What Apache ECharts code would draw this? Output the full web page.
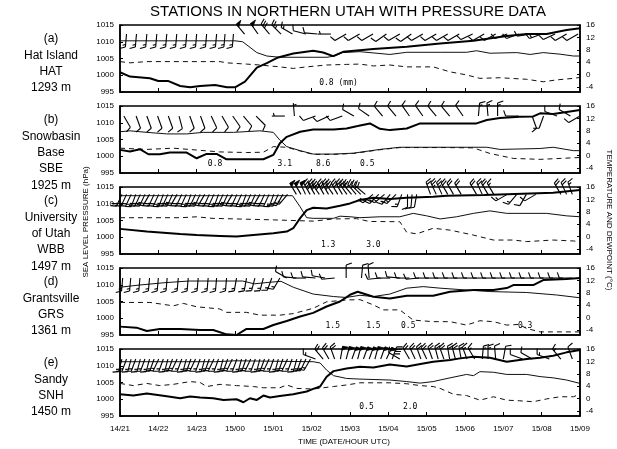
<!DOCTYPE html>
<html><head><meta charset="utf-8">
<script src="https://cdn.jsdelivr.net/npm/echarts@6/dist/echarts.min.js"></script>
<style>html,body{margin:0;padding:0;background:#fff}#c{width:617px;height:449px}</style>
</head><body><div id="c"></div>
<script>
// ---------- data ----------
const timeLabels = ['14/21','14/22','14/23','15/00','15/01','15/02','15/03','15/04','15/05','15/06','15/07','15/08','15/09'];
const rightTicks = [-4, 0, 4, 8, 12, 16];

const stationNames = [
  ['(a)', 'Hat Island', 'HAT', '1293 m'],
  ['(b)', 'Snowbasin', 'Base', 'SBE', '1925 m'],
  ['(c)', 'University', 'of Utah', 'WBB', '1497 m'],
  ['(d)', 'Grantsville', 'GRS', '1361 m'],
  ['(e)', 'Sandy', 'SNH', '1450 m']
];

// (a) Hat Island
const hatPressure = [[0,1000.9],[0.26,999.6],[0.78,999.1],[1.0,998.3],[1.25,998.3],[1.57,996.8],[1.83,996.4],[2.09,996.8],[2.48,997.1],[2.79,996.4],[3.0,996.4],[3.26,998.1],[3.57,1002.3],[3.83,1003.6],[4.1,1005.2],[4.52,1006.5],[5.04,1007.3],[5.3,1006.8],[5.56,1005.7],[5.82,1007.0],[6.61,1007.8],[7.48,1008.5],[8.35,1009.5],[9.22,1010.3],[10.09,1011.7],[10.61,1012.3],[11.13,1012.3],[11.65,1013.5],[12,1014.0]];
const hatTemp = [[0,10.9],[1.0,10.9],[2.0,10.9],[3.0,10.9],[3.2,10.6],[3.57,7.1],[3.83,6.0],[4.17,5.6],[5.04,5.6],[5.4,5.6],[5.6,6.0],[5.8,7.1],[6.26,7.4],[7.04,6.5],[7.48,7.2],[8.35,7.2],[9.04,7.2],[9.3,7.7],[9.65,6.9],[10.35,7.1],[10.7,6.5],[11.04,7.1],[11.48,6.6],[11.83,6.0],[12,6.0]];
const hatDew = [[0,4.2],[0.26,3.8],[0.7,4.2],[2.61,4.2],[2.78,3.8],[3.3,3.4],[3.65,3.1],[4.17,2.5],[4.52,2.0],[4.87,2.5],[5.39,3.1],[5.91,3.3],[6.26,3.4],[6.61,2.8],[7.04,3.1],[7.48,2.5],[8.17,2.5],[8.61,0.9],[9.04,-0.1],[9.39,-1.2],[9.91,-1.0],[10.61,-1.5],[11.04,-2.3],[11.39,-1.7],[11.83,-1.2],[12,-0.9]];
const hatBarbs = [[0.17,185,15],[0.43,185,15],[0.7,185,15],[0.96,185,15],[1.22,185,15],[1.48,185,15],[1.74,185,15],[2.0,185,15],[2.26,185,15],[2.52,185,15],[2.74,185,15],[2.96,185,15],
  [3.25,320,50],[3.6,325,50],[3.9,320,30],[4.2,315,25],[4.5,300,15],[4.85,285,10],[5.15,275,10],[5.5,270,5],
  [5.9,240,10],[6.25,240,10],[6.6,240,10],[6.95,235,10],[7.3,240,10],[7.6,235,10],[7.9,240,10],[8.25,240,10],[8.55,240,10],[8.85,240,10],[9.2,245,10],[9.5,240,10],[9.8,240,10],[10.1,250,10],[10.4,250,10],[10.7,260,10],[11.0,250,15],[11.35,245,10],[11.65,240,10],[11.95,240,10]];
const hatPrecip = [[5.7,'0.8 (mm)']];

// (b) Snowbasin Base
const sbePressure = [[0,1001.9],[0.26,1001.4],[0.52,1002.1],[0.74,1000.6],[1.04,1000.6],[1.3,1001.1],[1.74,1001.1],[2.0,999.4],[2.26,1000.7],[2.52,1000.7],[2.78,999.1],[3.04,999.1],[3.74,999.1],[4.0,1000.4],[4.17,1003.9],[4.35,1005.8],[4.7,1007.3],[5.04,1008.0],[5.57,1008.0],[5.91,1008.3],[6.2,1009.0],[6.52,1009.8],[6.78,1008.2],[7.04,1007.8],[7.48,1008.3],[7.83,1009.8],[8.61,1009.8],[9.3,1009.8],[9.57,1010.8],[9.91,1011.4],[10.43,1011.8],[10.78,1011.9],[10.96,1012.8],[11.3,1012.6],[11.65,1013.2],[12,1013.8]];
const sbeTemp = [[0,7.7],[0.26,8.0],[0.7,7.5],[1.22,7.0],[1.74,7.0],[2.17,7.5],[2.96,7.5],[3.65,8.0],[4.0,7.5],[4.17,5.0],[4.35,2.9],[4.7,1.6],[5.04,0.5],[5.57,0.5],[6.09,0.8],[6.78,2.0],[7.3,2.7],[9.57,2.7],[9.91,2.0],[10.96,2.3],[11.3,2.7],[11.83,1.6],[12,1.6]];
const sbeDew = [[0,2.4],[0.7,2.0],[1.39,2.4],[2.0,1.8],[2.6,1.2],[3.3,1.0],[3.74,1.1],[4.0,2.9],[4.35,2.7],[4.7,1.5],[5.04,0.4],[5.57,0.4],[6.09,0.7],[6.78,1.9],[7.3,2.6],[8.5,2.6],[9.22,2.5],[9.65,0.7],[10.26,-0.9],[10.96,-1.2],[11.48,-0.9],[12,-0.6]];
const sbeBarbs = [[0.1,150,10],[0.42,160,10],[0.7,160,10],[0.98,160,10],[1.26,160,10],[1.54,165,10],[1.82,160,10],[2.1,160,10],[2.38,155,10],[2.66,150,10],[2.94,145,10],[3.22,140,10],[3.55,135,10],
  [4.3,270,5],[4.55,355,5],[5.1,250,10],[5.45,245,10],[5.8,250,10],[6.1,300,10],[6.5,305,10],[6.85,320,10],[7.2,320,10],[7.55,325,10],[7.9,325,10],[8.25,320,10],[8.6,320,10],[8.95,325,10],
  [9.35,5,15],[9.6,355,15],[9.85,0,15],[10.4,270,10],[10.75,160,10],[11.05,200,10],[11.4,290,10],[11.75,300,10],[12.0,240,10]];
const sbePrecip = [[2.48,'0.8'],[4.3,'3.1'],[5.3,'8.6'],[6.45,'0.5']];

// (c) University of Utah
const wbbPressure = [[0,1002.5],[0.7,1001.7],[1.57,1001.0],[2.0,1000.7],[2.61,1000.4],[3.04,1000.2],[3.48,1000.7],[4.0,1001.2],[4.35,1001.7],[4.52,1002.7],[4.7,1005.7],[4.87,1008.1],[5.04,1008.8],[5.39,1008.6],[5.74,1009.4],[6.0,1010.1],[6.26,1011.1],[6.61,1011.8],[7.04,1011.4],[7.48,1011.8],[8.17,1012.1],[8.52,1012.4],[9.5,1012.6],[10.5,1013.0],[11.3,1013.3],[12,1014.1]];
const wbbTemp = [[0,13.2],[4.5,13.2],[4.7,9.6],[4.87,6.1],[5.04,5.9],[5.57,5.9],[5.74,6.6],[6.0,6.4],[6.26,6.1],[6.78,6.4],[7.3,6.4],[7.65,7.5],[8.0,6.7],[8.35,5.7],[8.78,6.4],[9.22,7.5],[9.65,8.3],[10.09,7.5],[11.13,7.5],[11.65,6.7],[12,6.4]];
const wbbDew = [[0,6.1],[1.6,6.1],[2.0,6.4],[2.4,5.9],[4.0,5.4],[5.04,5.0],[5.57,5.7],[6.17,5.8],[6.5,4.9],[7.3,4.8],[7.48,1.4],[7.74,0.9],[8.17,2.7],[8.61,2.1],[9.22,0.5],[9.74,-1.1],[10.26,-1.1],[10.61,-1.6],[11.3,-1.1],[11.83,-1.4],[12,-1.6]];
const wbbBarbs = [[0.05,205,20],[0.17,205,20],[0.29,205,20],[0.41,200,20],[0.53,205,20],[0.65,205,20],[0.77,210,20],[0.89,205,20],[1.01,205,20],[1.13,200,20],[1.25,205,20],[1.37,205,20],[1.49,210,20],[1.61,205,20],[1.73,205,20],[1.85,200,20],[1.97,205,20],[2.09,205,20],[2.21,210,20],[2.33,205,20],[2.45,205,20],[2.57,200,20],[2.69,205,20],[2.81,205,20],[2.93,210,20],[3.05,205,20],[3.17,205,20],[3.29,200,20],[3.41,205,20],[3.53,205,20],[3.65,210,20],[3.77,205,20],[3.89,205,20],[4.01,200,15],[4.13,205,15],[4.25,210,15],[4.37,220,15],
  [4.6,330,50],[4.72,330,50],[4.84,335,50],[4.96,330,40],[5.08,330,40],[5.2,325,40],[5.32,330,35],[5.44,330,35],[5.56,325,30],[5.68,330,30],[5.8,330,30],[5.92,325,30],[6.04,320,25],[6.16,320,25],[6.28,315,25],[6.4,310,20],
  [6.6,230,20],[6.75,225,20],[6.9,230,20],[7.05,220,15],[7.2,225,15],[7.35,200,15],[7.5,180,10],[7.62,185,10],[7.74,190,10],
  [8.1,340,20],[8.25,335,25],[8.4,335,25],[8.55,330,20],[8.7,330,20],[8.9,330,20],[9.3,330,20],[9.45,335,20],[9.6,330,20],[9.75,330,15],
  [10.1,240,15],[10.35,220,15],[10.6,210,10],[10.85,240,10],[11.5,330,20],[11.65,335,20],[11.8,340,15]];
const wbbPrecip = [[5.43,'1.3'],[6.61,'3.0']];

// (d) Grantsville
const grsPressure = [[0,997.5],[0.43,997.2],[0.7,996.2],[1.04,996.8],[1.57,996.8],[2.09,996.5],[2.43,996.5],[2.78,995.2],[3.04,995.0],[3.3,996.8],[3.74,996.8],[4.0,998.0],[4.35,999.2],[4.7,1000.5],[5.04,1001.6],[5.39,1003.5],[5.74,1005.0],[6.0,1007.0],[6.2,1007.9],[6.61,1006.4],[7.04,1005.9],[7.48,1006.7],[8.17,1006.7],[8.61,1007.9],[9.22,1008.4],[9.74,1008.4],[10.09,1009.0],[10.26,1009.9],[10.78,1009.9],[11.04,1011.4],[11.65,1011.7],[12,1012.0]];
const grsTemp = [[0,9.8],[0.5,10.5],[1.2,11.3],[1.8,11.8],[3.2,11.8],[3.5,10.9],[3.9,11.4],[4.2,11.7],[4.52,9.8],[5.04,7.6],[5.57,6.8],[5.9,6.5],[6.26,7.2],[6.61,6.8],[7.04,7.6],[7.48,9.5],[7.91,10.0],[8.35,9.5],[9.04,8.9],[9.65,8.4],[10.61,8.1],[11.39,7.3],[12,6.4]];
const grsDew = [[0,4.9],[0.78,4.9],[1.39,3.8],[1.65,4.6],[2.0,3.5],[2.6,2.8],[2.78,1.7],[3.3,1.7],[3.65,0.8],[4.17,0.8],[4.52,1.3],[5.04,3.0],[5.39,5.1],[5.91,5.7],[6.26,5.8],[6.61,4.1],[6.87,2.5],[7.3,2.5],[7.65,-0.8],[8.17,-1.3],[8.61,-1.3],[9.04,-2.4],[9.39,-1.0],[9.74,-1.3],[10.09,-2.4],[10.4,-2.2],[10.61,-3.5],[10.96,-4.6],[12,-4.6]];
const grsBarbs = [[0.07,185,15],[0.28,185,15],[0.52,185,15],[0.77,185,15],[1.0,185,15],[1.23,185,15],[1.52,185,15],[1.78,185,15],[2.04,185,15],[2.3,185,15],[2.52,185,15],[2.78,185,15],[3.04,190,15],[3.3,190,15],[3.52,195,15],[3.74,195,15],[3.96,200,15],[4.17,210,15],
  [4.35,300,10],[4.6,275,10],[4.85,270,10],[5.1,275,10],[5.35,280,10],[5.6,265,10],[5.9,0,10],[6.3,5,10],[6.5,355,10],[6.8,265,10],[7.05,270,10],[7.3,275,10],[7.55,270,10],[7.8,265,10],[8.05,270,10],[8.3,270,10],[8.55,270,10],[8.8,270,10],[9.05,270,10],[9.3,270,10],[9.55,270,10],[9.8,270,10],[10.05,270,10],[10.3,270,10],[10.55,270,10],[10.8,270,10],[11.05,270,10],[11.3,270,10],[11.55,270,10],[11.8,270,10]];
const grsPrecip = [[5.55,'1.5'],[6.61,'1.5'],[7.52,'0.5'],[10.57,'0.3']];

// (e) Sandy
const snhPressure = [[0,1001.5],[0.35,1001.1],[0.7,1001.7],[1.22,1000.9],[1.57,1000.3],[1.83,1000.8],[2.09,1000.5],[2.43,1000.3],[2.7,999.8],[3.04,1000.0],[3.22,999.1],[3.39,1000.3],[3.57,999.8],[3.74,1001.1],[3.91,1000.5],[4.17,1001.0],[4.52,1001.5],[4.87,1002.3],[5.04,1003.1],[5.22,1003.8],[5.39,1006.7],[5.57,1008.4],[5.91,1009.2],[6.26,1009.7],[6.61,1009.5],[7.04,1010.4],[7.48,1009.8],[7.91,1010.7],[8.17,1011.2],[8.61,1011.7],[8.87,1012.2],[9.22,1012.7],[9.65,1012.4],[10.09,1011.2],[10.61,1012.0],[10.96,1012.4],[11.3,1013.0],[11.65,1014.0],[12,1014.7]];
const snhTemp = [[0,11.9],[2.5,11.9],[3.0,12.2],[5.04,11.9],[5.22,11.5],[5.39,9.2],[5.57,7.4],[5.91,6.5],[6.26,6.3],[7.04,6.0],[7.48,5.5],[7.83,5.0],[8.17,5.5],[8.35,6.0],[8.61,6.7],[9.04,7.8],[9.22,7.4],[9.39,8.7],[9.74,8.5],[10.09,7.8],[10.61,7.8],[10.96,7.1],[11.3,6.7],[11.65,6.0],[12,4.9]];
const snhDew = [[0,4.9],[0.35,4.2],[0.7,4.9],[1.04,4.2],[1.39,4.6],[1.83,5.5],[2.09,5.2],[2.26,3.9],[2.61,4.6],[3.04,4.2],[3.48,3.9],[3.74,3.5],[4.17,3.5],[4.35,4.4],[4.61,3.3],[5.04,3.1],[5.57,3.9],[5.91,4.4],[6.26,5.1],[7.04,5.1],[7.48,4.8],[7.83,4.2],[8.17,3.9],[8.35,3.3],[8.7,1.4],[9.04,1.0],[9.39,-0.5],[9.74,0.6],[10.09,-0.5],[10.43,-0.7],[10.78,-1.0],[11.13,-0.1],[11.48,0.6],[11.83,0.6],[12,1.5]];
const snhBarbs = [[0.05,195,15],[0.17,200,15],[0.29,195,15],[0.41,200,15],[0.53,195,15],[0.65,200,15],[0.77,195,15],[0.89,200,15],[1.01,205,15],[1.13,200,15],[1.25,195,15],[1.37,200,15],[1.49,205,15],[1.61,200,15],[1.73,195,15],[1.85,200,15],[1.97,205,15],[2.09,200,15],[2.21,195,15],[2.33,200,15],[2.45,205,15],[2.57,200,15],[2.69,195,15],[2.81,200,15],[2.93,205,15],[3.05,200,15],[3.17,195,15],[3.29,200,15],[3.41,205,15],[3.53,200,15],[3.65,195,15],[3.77,200,15],[3.89,205,15],[4.01,200,15],[4.13,195,15],[4.25,200,15],[4.37,205,15],[4.49,200,15],[4.61,195,15],[4.73,200,15],[4.85,205,15],[4.97,210,15],
  [5.1,290,15],[5.3,320,20],[5.45,330,20],[5.6,340,20],[5.75,10,50],[5.9,15,50],[6.05,20,50],[6.2,15,50],[6.35,20,50],[6.5,20,50],[6.65,15,50],[6.8,20,50],[6.95,25,50],[7.1,20,40],[7.3,300,10],
  [7.55,330,20],[7.7,335,20],[7.85,340,20],[8.0,335,20],[8.15,340,20],[8.3,345,20],[8.45,340,20],[8.6,350,20],[8.75,345,20],[8.9,350,15],[9.05,340,15],[9.25,330,15],[9.45,5,15],[9.6,0,15],[9.8,355,10],[10.0,10,10],[10.5,290,10],[10.75,300,10],[11.2,290,15],[11.5,320,15],[11.8,340,10]];
const snhPrecip = [[6.43,'0.5'],[7.57,'2.0']];

// ---------- chart ----------
const panels = [
  {pres: hatPressure, temp: hatTemp, dew: hatDew, barbs: hatBarbs, precip: hatPrecip, barbLevel: 1012.3},
  {pres: sbePressure, temp: sbeTemp, dew: sbeDew, barbs: sbeBarbs, precip: sbePrecip, barbLevel: 1012.0},
  {pres: wbbPressure, temp: wbbTemp, dew: wbbDew, barbs: wbbBarbs, precip: wbbPrecip, barbLevel: 1012.8},
  {pres: grsPressure, temp: grsTemp, dew: grsDew, barbs: grsBarbs, precip: grsPrecip, barbLevel: 1012.0},
  {pres: snhPressure, temp: snhTemp, dew: snhDew, barbs: snhBarbs, precip: snhPrecip, barbLevel: 1012.0}
];

const FONT = '"Liberation Sans", Arial, Helvetica, sans-serif';

function barbRenderer(level) {
  return function (params, api) {
    const h = api.value(0), dir = api.value(1), spd = api.value(2);
    const o = api.coord([h, level]);
    const r = dir * Math.PI / 180;
    const sx = Math.sin(r), sy = -Math.cos(r);
    const fx = -sy, fy = sx;
    const L = 13, F = 6, G = 2.5;
    const ex = o[0] + sx * L, ey = o[1] + sy * L;
    const st = {stroke: '#000', lineWidth: 1.1, fill: null};
    const ch = [{type: 'line', shape: {x1: o[0], y1: o[1], x2: ex, y2: ey}, style: st}];
    let s = spd, d = 0;
    while (s >= 47.5) {
      const ax = ex - sx * d, ay = ey - sy * d;
      const bx = ex - sx * (d + 4), by = ey - sy * (d + 4);
      const tx = ax + fx * F, ty = ay + fy * F;
      ch.push({type: 'polygon', shape: {points: [[ax, ay], [tx, ty], [bx, by]]}, style: {fill: '#000', stroke: '#000', lineWidth: 0.8}});
      d += 5; s -= 50;
    }
    while (s >= 7.5) {
      const ax = ex - sx * d, ay = ey - sy * d;
      ch.push({type: 'line', shape: {x1: ax, y1: ay, x2: ax + fx * F * 0.94 + sx * F * 0.34, y2: ay + fy * F * 0.94 + sy * F * 0.34}, style: st});
      d += G; s -= 10;
    }
    if (s >= 2.5) {
      if (d === 0) d = G;
      const ax = ex - sx * d, ay = ey - sy * d;
      ch.push({type: 'line', shape: {x1: ax, y1: ay, x2: ax + fx * F * 0.5 + sx * F * 0.17, y2: ay + fy * F * 0.5 + sy * F * 0.17}, style: st});
    }
    return {type: 'group', children: ch};
  };
}

function textRenderer(list, level) {
  return function (params, api) {
    const p = api.coord([api.value(0), level]);
    return {type: 'text', x: p[0], y: p[1], style: {text: list[params.dataIndex][1], fill: '#000', fontSize: 8, fontFamily: '"DejaVu Sans Mono", monospace', align: 'center', verticalAlign: 'middle'}};
  };
}

const grids = [], xAxes = [], yAxes = [], series = [];
panels.forEach((p, i) => {
  const top = 25 + 81 * i;
  grids.push({left: 120, right: 37, top: top, height: 67, show: true, borderColor: '#000', borderWidth: 1.5, backgroundColor: 'transparent', outerBoundsMode: 'none', containLabel: false});
  xAxes.push({gridIndex: i, type: 'value', min: 0, max: 12, interval: 1,
    axisLine: {show: true, onZero: false, lineStyle: {color: '#000', width: 1.5}},
    axisTick: {show: true, inside: true, length: 4, lineStyle: {color: '#000', width: 1}},
    axisLabel: {show: i === 4, margin: 9, fontSize: 8, color: '#000', fontFamily: FONT, formatter: v => timeLabels[Math.round(v)]},
    splitLine: {show: false}});
  yAxes.push({gridIndex: i, type: 'value', position: 'left', min: 995, max: 1015, interval: 5,
    axisLine: {show: true, onZero: false, lineStyle: {color: '#000', width: 1.5}},
    axisTick: {show: true, inside: true, length: 3, lineStyle: {color: '#000'}},
    axisLabel: {fontSize: 8, margin: 6, color: '#000', fontFamily: FONT, formatter: v => String(v)},
    splitLine: {show: false}});
  yAxes.push({gridIndex: i, type: 'value', position: 'right', min: -5.6, max: 16,
    axisLine: {show: true, onZero: false, lineStyle: {color: '#000', width: 1.5}},
    axisTick: {show: true, inside: true, length: 3, customValues: rightTicks, lineStyle: {color: '#000'}},
    axisLabel: {customValues: rightTicks, fontSize: 8, margin: 6, color: '#000', fontFamily: FONT, formatter: v => String(v)},
    splitLine: {show: false}});
  series.push({type: 'line', xAxisIndex: i, yAxisIndex: 2 * i, data: p.pres, symbol: 'none', z: 4,
    lineStyle: {color: '#000', width: 2}});
  series.push({type: 'line', xAxisIndex: i, yAxisIndex: 2 * i + 1, data: p.temp, symbol: 'none', z: 3,
    lineStyle: {color: '#111', width: 1}});
  series.push({type: 'line', xAxisIndex: i, yAxisIndex: 2 * i + 1, data: p.dew, symbol: 'none', z: 3,
    lineStyle: {color: '#111', width: 1, type: [5, 4]}});
  series.push({type: 'custom', xAxisIndex: i, yAxisIndex: 2 * i, data: p.barbs, clip: false, z: 5,
    renderItem: barbRenderer(p.barbLevel)});
  series.push({type: 'custom', xAxisIndex: i, yAxisIndex: 2 * i, data: p.precip.map(d => [d[0], 997.8]), z: 5,
    renderItem: textRenderer(p.precip, 997.8)});
});

const graphics = [
  {type: 'text', x: 348, y: 12, style: {text: 'STATIONS IN NORTHERN UTAH WITH PRESSURE DATA', fontSize: 15, fontFamily: FONT, fill: '#000', align: 'center', verticalAlign: 'middle'}},
  {type: 'text', x: 86, y: 222, rotation: Math.PI / 2, style: {text: 'SEA LEVEL PRESSURE (hPa)', fontSize: 8, fontFamily: FONT, fill: '#000', align: 'center', verticalAlign: 'middle'}},
  {type: 'text', x: 609, y: 220, rotation: -Math.PI / 2, style: {text: 'TEMPERATURE AND DEWPOINT (°C)', fontSize: 8, fontFamily: FONT, fill: '#000', align: 'center', verticalAlign: 'middle'}},
  {type: 'text', x: 344, y: 442, style: {text: 'TIME (DATE/HOUR UTC)', fontSize: 8, fontFamily: FONT, fill: '#000', align: 'center', verticalAlign: 'middle'}}
];
const labelTops = [31, 112, 193, 274, 355];
stationNames.forEach((lines, i) => {
  graphics.push({type: 'text', x: 51, y: labelTops[i], style: {text: lines.join('\n'), fontSize: 12, lineHeight: 16.3, fontFamily: FONT, fill: '#000', align: 'center', verticalAlign: 'top'}});
});

const chart = echarts.init(document.getElementById('c'), null, {renderer: 'canvas'});
chart.setOption({
  animation: false,
  backgroundColor: '#fff',
  grid: grids, xAxis: xAxes, yAxis: yAxes, series: series, graphic: graphics
});
</script></body></html>
